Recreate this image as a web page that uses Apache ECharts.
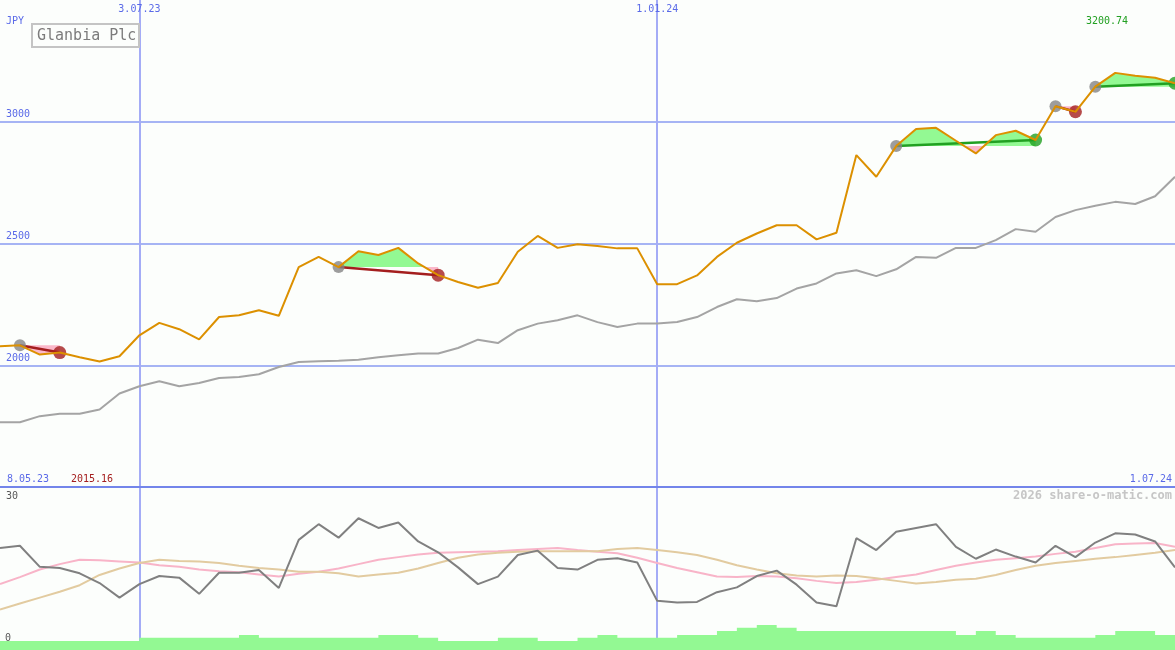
<!DOCTYPE html>
<html>
<head>
<meta charset="utf-8">
<script src="https://cdn.jsdelivr.net/npm/echarts@6/dist/echarts.min.js"></script>
<style>
html,body{margin:0;padding:0;background:#fcfefc;}
#c{width:1175px;height:650px;}
</style>
</head>
<body>
<div id="c"></div>
<script>
// ---------- data ----------
const dates = ["15.05.23","22.05.23","29.05.23","5.06.23","12.06.23","19.06.23","26.06.23","3.07.23","10.07.23","17.07.23",
"24.07.23","31.07.23","7.08.23","14.08.23","21.08.23","28.08.23","4.09.23","11.09.23","18.09.23","25.09.23",
"2.10.23","9.10.23","16.10.23","23.10.23","30.10.23","6.11.23","13.11.23","20.11.23","27.11.23","4.12.23",
"11.12.23","18.12.23","25.12.23","1.01.24","8.01.24","15.01.24","22.01.24","29.01.24","5.02.24","12.02.24",
"19.02.24","26.02.24","4.03.24","11.03.24","18.03.24","25.03.24","1.04.24","8.04.24","15.04.24","22.04.24",
"29.04.24","6.05.24","13.05.24","20.05.24","27.05.24","3.06.24","10.06.24","17.06.24","24.06.24","1.07.24"];
const markedDates = ["3.07.23","1.01.24"];
const startLabel = "8.05.23";
const endLabel = "1.07.24";
const currency = "JPY";
const stockName = "Glanbia Plc";
const watermark = "2026 share-o-matic.com";

const closePrice = [2078,2082,2044,2052,2033,2015.16,2037,2123,2174,2148,
2106,2198,2205,2226,2203,2403,2445,2403,2468,2453,
2482,2418,2370,2342,2318,2338,2466,2531,2482,2497,
2490,2480,2480,2333,2333,2369,2445,2503,2541,2575,
2575,2517,2544,2863,2774,2900,2970,2975,2922,2870,
2945,2963,2925,3064,3041,3144,3200.74,3189,3181,3158];

const movingAvg = [1766,1766,1791,1801,1801,1818,1884,1914,1934,1914,
1927,1948,1952,1963,1993,2013,2016,2018,2023,2033,
2041,2048,2048,2071,2105,2091,2144,2171,2185,2205,
2177,2157,2171,2171,2178,2198,2239,2271,2263,2276,
2315,2336,2377,2390,2366,2394,2445,2441,2482,2482,
2514,2559,2548,2609,2637,2655,2671,2662,2694,2774];

const adx = [18.9,19.3,15.4,15.2,14.2,12.4,9.7,12.2,13.7,13.4,
10.4,14.3,14.3,14.8,11.5,20.4,23.3,20.8,24.4,22.6,
23.6,20.1,18.1,15.3,12.2,13.6,17.6,18.4,15.2,14.9,
16.7,17.0,16.2,9.1,8.8,8.9,10.7,11.6,13.7,14.7,
12.1,8.8,8.1,20.7,18.5,21.9,22.6,23.3,19.1,16.9,
18.6,17.3,16.2,19.3,17.2,19.9,21.6,21.4,20.1,15.3];

const diPink = [12.2,13.5,14.9,15.9,16.7,16.6,16.4,16.2,15.7,15.4,
14.9,14.6,14.4,14.0,13.6,14.1,14.5,15.1,15.9,16.7,
17.2,17.7,18.0,18.1,18.2,18.3,18.5,18.7,18.9,18.5,
18.2,17.9,17.1,16.1,15.2,14.4,13.6,13.5,13.7,13.6,
13.3,12.8,12.4,12.6,13.0,13.5,14.0,14.8,15.6,16.2,
16.7,17.0,17.3,17.8,18.2,18.9,19.6,19.7,19.8,19.1];

const diTan = [7.5,8.6,9.7,10.8,12.0,13.9,15.1,16.1,16.7,16.5,
16.4,16.1,15.6,15.2,14.9,14.5,14.5,14.2,13.6,14.0,
14.3,15.1,16.1,17.1,17.7,18.0,18.2,18.3,18.3,18.3,
18.3,18.7,18.9,18.5,18.1,17.6,16.7,15.7,14.9,14.2,
13.8,13.6,13.8,13.7,13.3,12.8,12.3,12.6,13.0,13.2,
13.9,14.8,15.6,16.1,16.5,16.9,17.2,17.6,18.0,18.5];

const volume = [56,56,56,56,56,56,56,76,76,76,
76,76,93,76,76,76,76,76,76,93,
93,76,56,56,56,76,76,56,56,76,
93,76,76,76,93,93,117,138,154,138,
117,117,117,117,117,117,117,117,93,117,
93,76,76,76,76,93,117,117,93,93];

const tradeEntry = [1,17,45,53,55];
const tradeExit  = [3,22,52,54,59];

// ---------- derived ----------
const markIdx = markedDates.map(d => dates.indexOf(d));
const maxClose = Math.max(...closePrice);
const minClose = Math.min(...closePrice);
const isMark = (i) => markIdx.indexOf(i) >= 0;

// fill polygons between price and entry level (split at crossings)
const fills = [];
tradeEntry.forEach((a, k) => {
  const b = tradeExit[k], e = closePrice[a];
  let cur = null;
  for (let i = a; i < b; i++) {
    const d0 = closePrice[i] - e, d1 = closePrice[i + 1] - e;
    const segs = [];
    if (d0 * d1 < 0) {
      const t = d0 / (d0 - d1), xc = i + t;
      segs.push([i, closePrice[i], xc, e, Math.sign(d0)]);
      segs.push([xc, e, i + 1, closePrice[i + 1], Math.sign(d1)]);
    } else {
      segs.push([i, closePrice[i], i + 1, closePrice[i + 1], Math.sign(d0 + d1)]);
    }
    segs.forEach(s => {
      if (s[4] === 0) { cur = null; return; }
      if (!cur || cur.sign !== s[4]) { cur = { sign: s[4], e: e, pts: [[s[0], s[1]]] }; fills.push(cur); }
      cur.pts.push([s[2], s[3]]);
    });
  }
});
fills.forEach(f => {
  const last = f.pts[f.pts.length - 1], first = f.pts[0];
  f.pts.push([last[0], f.e]);
  f.pts.push([first[0], f.e]);
});

const MONO = '"DejaVu Sans Mono", "Liberation Mono", monospace';
const BLUE = '#5a6ae8';
const GRIDC = '#a6b4f4';
const VLINE = '#a4acf6';
const RED = '#a41e1e';
const GREEN = '#22a022';
const plain = (v) => String(v);

const series = [];
// volume (lower panel)
series.push({
  type: 'line', xAxisIndex: 3, yAxisIndex: 3, data: volume, step: 'end',
  symbol: 'none', lineStyle: { width: 0, opacity: 0 },
  areaStyle: { color: '#93f993', opacity: 1 }, silent: true, z: 1
});
series.push({ type: 'line', xAxisIndex: 3, yAxisIndex: 1, data: diPink, symbol: 'none',
  lineStyle: { color: '#f8b4c8', width: 2 }, silent: true, z: 2 });
series.push({ type: 'line', xAxisIndex: 3, yAxisIndex: 1, data: diTan, symbol: 'none',
  lineStyle: { color: '#e2cba0', width: 2 }, silent: true, z: 2 });
series.push({ type: 'line', xAxisIndex: 3, yAxisIndex: 1, data: adx, symbol: 'none',
  lineStyle: { color: '#808080', width: 2 }, silent: true, z: 3 });

// moving average
series.push({ type: 'line', xAxisIndex: 0, yAxisIndex: 0, data: movingAvg, symbol: 'none',
  lineStyle: { color: '#a4a4a4', width: 2 }, silent: true, z: 2 });

// trade fills
series.push({
  type: 'custom', coordinateSystem: 'cartesian2d', xAxisIndex: 2, yAxisIndex: 0,
  data: fills.map((f, k) => [f.pts[0][0], f.e, k]),
  encode: { x: 0, y: 1 },
  renderItem: function (params, api) {
    const f = fills[params.dataIndex];
    return {
      type: 'polygon',
      shape: { points: f.pts.map(p => api.coord(p)) },
      style: { fill: f.sign > 0 ? '#93f993' : '#fbb8ca', stroke: null }
    };
  },
  silent: true, z: 3
});

// trade lines
tradeEntry.forEach((a, k) => {
  const b = tradeExit[k];
  const win = closePrice[b] >= closePrice[a];
  series.push({
    type: 'line', xAxisIndex: 2, yAxisIndex: 0,
    data: [[a, closePrice[a]], [b, closePrice[b]]], symbol: 'none',
    lineStyle: { color: win ? GREEN : RED, width: 2.5 }, silent: true, z: 4
  });
});

// entry / exit dots
series.push({
  type: 'scatter', xAxisIndex: 2, yAxisIndex: 0, symbolSize: 12,
  data: tradeEntry.map(a => [a, closePrice[a]]),
  itemStyle: { color: '#848484' }, silent: true, z: 5
});
series.push({
  type: 'scatter', xAxisIndex: 2, yAxisIndex: 0, symbolSize: 13,
  data: tradeExit.map((b, k) => ({
    value: [b, closePrice[b]],
    itemStyle: { color: closePrice[b] >= closePrice[tradeEntry[k]] ? GREEN : RED }
  })),
  silent: true, z: 5
});

// price
series.push({ type: 'line', xAxisIndex: 0, yAxisIndex: 0, data: closePrice, symbol: 'none',
  lineStyle: { color: '#dc9000', width: 2 }, silent: true, z: 10 });

const option = {
  backgroundColor: '#fcfefc',
  animation: false,
  title: {
    text: stockName, left: 32, top: 24, padding: [4, 3, 3, 5],
    borderColor: '#c4c4c4', borderWidth: 2, backgroundColor: '#fcfefc',
    textStyle: { fontFamily: MONO, fontSize: 15, fontWeight: 'normal', color: '#7c7c7c', lineHeight: 16 }
  },
  grid: [
    { left: 0, right: 0, top: 0, height: 487 },
    { left: 0, right: 0, top: 488, bottom: 0 }
  ],
  xAxis: [
    { type: 'category', gridIndex: 0, data: dates, boundaryGap: false, position: 'top',
      axisLine: { show: false }, axisTick: { show: false },
      axisLabel: { inside: true, margin: 4, interval: (i) => isMark(i), color: BLUE, fontFamily: MONO, fontSize: 10 },
      splitLine: { show: true, interval: (i) => isMark(i), lineStyle: { color: VLINE, width: 2 } } },
    { type: 'category', gridIndex: 0, data: dates, boundaryGap: false, position: 'bottom',
      axisLine: { show: true, onZero: false, lineStyle: { color: '#7385ea', width: 2 } },
      axisTick: { show: false }, axisLabel: { show: false }, splitLine: { show: false } },
    { type: 'value', gridIndex: 0, min: 0, max: dates.length - 1, show: false },
    { type: 'category', gridIndex: 1, data: dates, boundaryGap: false,
      axisLine: { show: false }, axisTick: { show: false }, axisLabel: { show: false },
      splitLine: { show: true, interval: (i) => isMark(i), lineStyle: { color: VLINE, width: 2 } } }
  ],
  yAxis: [
    { type: 'value', gridIndex: 0, min: 1500, max: 3500, interval: 500, position: 'left',
      axisLine: { show: false }, axisTick: { show: false },
      axisLabel: { inside: true, margin: 6, verticalAlign: 'bottom', showMinLabel: false, showMaxLabel: false,
        formatter: plain, color: BLUE, fontFamily: MONO, fontSize: 10, padding: [0, 0, 2, 0] },
      splitLine: { show: true, showMinLine: false, showMaxLine: false, lineStyle: { color: GRIDC, width: 2 } } },
    { type: 'value', gridIndex: 1, min: 0, max: 30, interval: 30, position: 'left',
      axisLine: { show: false }, axisTick: { show: false }, splitLine: { show: false },
      axisLabel: { inside: true, margin: 6, verticalAlign: 'top', showMinLabel: false, formatter: plain,
        color: '#585858', fontFamily: MONO, fontSize: 10, padding: [3, 0, 0, 0] } },
    { type: 'value', gridIndex: 1, min: 0, max: 30, interval: 30, position: 'left',
      axisLine: { show: false }, axisTick: { show: false }, splitLine: { show: false },
      axisLabel: { inside: true, margin: 5, verticalAlign: 'bottom', showMaxLabel: false, formatter: plain,
        color: '#585858', fontFamily: MONO, fontSize: 10, padding: [0, 0, 7, 0] } },
    { type: 'value', gridIndex: 1, min: 0, max: 1000, show: false }
  ],
  graphic: [
    { type: 'text', left: 6, top: 16, silent: true,
      style: { text: currency, font: '10px ' + MONO, fill: BLUE } },
    { type: 'text', left: 7, top: 474, silent: true,
      style: { text: startLabel, font: '10px ' + MONO, fill: BLUE } },
    { type: 'text', left: 71, top: 474, silent: true,
      style: { text: minClose.toFixed(2), font: '10px ' + MONO, fill: RED } },
    { type: 'text', right: 3, top: 474, silent: true,
      style: { text: endLabel, font: '10px ' + MONO, fill: BLUE } },
    { type: 'text', left: 1086, top: 16, silent: true,
      style: { text: maxClose.toFixed(2), font: '10px ' + MONO, fill: GREEN } },
    { type: 'text', right: 3, top: 490, silent: true,
      style: { text: watermark, font: 'bold 12px ' + MONO, fill: '#c6c6c6' } }
  ],
  series: series
};

const chart = echarts.init(document.getElementById('c'), null, { renderer: 'canvas' });
chart.setOption(option);
</script>
</body>
</html>
